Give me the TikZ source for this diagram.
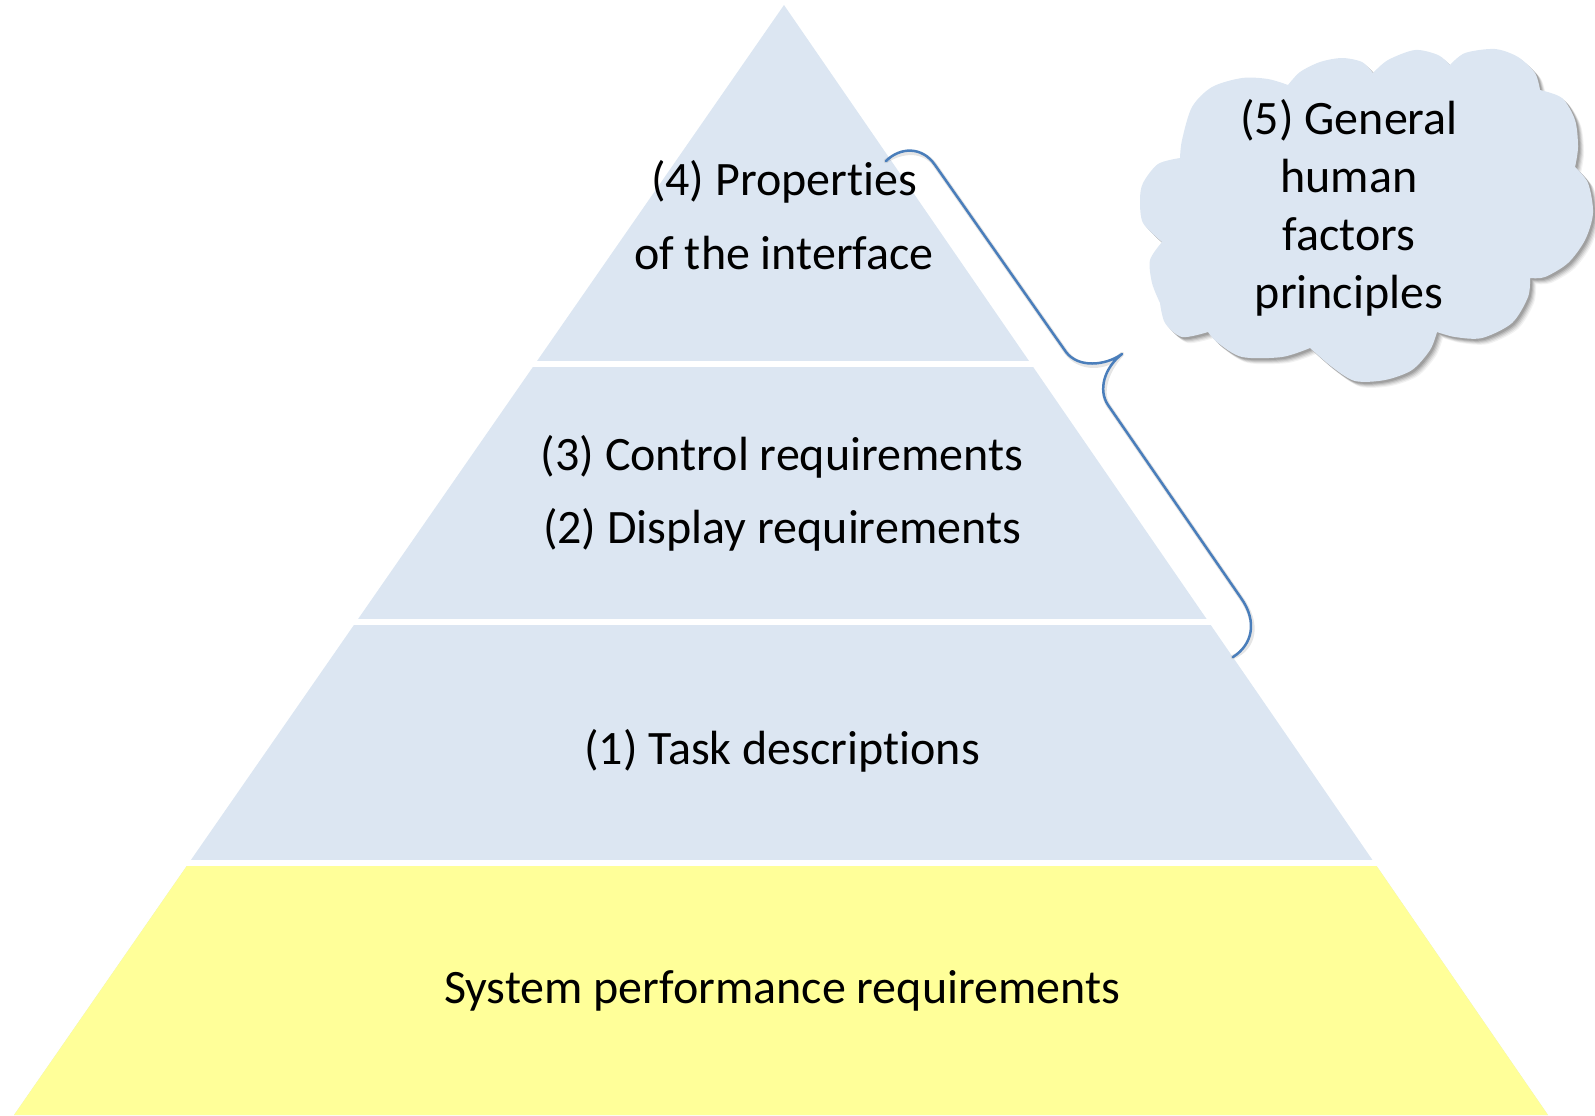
\documentclass[tikz,border=0pt]{standalone}
\usepackage{fontspec}
\setmainfont[Ligatures={NoCommon,NoContextual}]{Carlito}
\usetikzlibrary{calc}

\definecolor{pyrblue}{HTML}{DCE6F2}
\definecolor{pyryellow}{HTML}{FFFF99}
\definecolor{bracecol}{HTML}{4A7EBB}

% keeps t and i as separate glyphs
\newcommand\tsep{t\kern0pt i}

% outline of the thought cloud, lobe by lobe
\newcommand\hfcloudpath{%
  (1162,242)
  -- plot[smooth] coordinates {(1162,242) (1143,223) (1140,200) (1143,183) (1158,164) (1180,158)}
  -- plot[smooth] coordinates {(1180,158) (1182,140) (1192,107) (1212,87) (1242,78) (1268,79) (1288,85)}
  -- plot[smooth] coordinates {(1288,85) (1300,72) (1320,62) (1342,58) (1362,62) (1373,73)}
  -- plot[smooth] coordinates {(1373,73) (1388,60) (1415,50) (1438,55) (1450,65)}
  -- plot[smooth] coordinates {(1450,65) (1465,53) (1495,49) (1518,57) (1535,73) (1540,90)}
  -- plot[smooth] coordinates {(1540,90) (1562,98) (1575,120) (1578,147) (1575,167)}
  -- plot[smooth] coordinates {(1575,167) (1588,183) (1593,213) (1585,240) (1568,263) (1545,277) (1530,278)}
  -- plot[smooth] coordinates {(1530,278) (1528,297) (1512,323) (1482,338) (1455,337) (1437,332)}
  -- plot[smooth] coordinates {(1437,332) (1430,350) (1412,370) (1385,380) (1355,381) (1332,367) (1310,348)}
  -- plot[smooth] coordinates {(1310,348) (1282,357) (1242,357) (1218,343) (1208,332)}
  -- plot[smooth] coordinates {(1208,332) (1182,337) (1165,323) (1160,303)}
  -- plot[smooth] coordinates {(1160,303) (1152,283) (1150,260) (1162,242)}
  -- cycle}

\begin{document}
\begin{tikzpicture}[x=0.5pt,y=-0.5pt,
  lbl/.style={font=\fontsize{24}{29}\selectfont, inner sep=0pt, anchor=base},
  gapbar/.style={fill=white},
  bracestroke/.style={draw=bracecol, line width=1.25pt, line join=round, line cap=round},
  braceshade/.style={draw=black, opacity=0.10, line width=2.2pt, line join=round, line cap=round},
]
\useasboundingbox (0,0) rectangle (1595,1115);

% pyramid body
\coordinate (apex) at (784,5);
\coordinate (bl) at (14,1115);
\coordinate (br) at (1548,1115);
\fill[pyrblue] (apex) -- (bl) -- (br) -- cycle;
\begin{scope}
  \clip (0,866) rectangle (1595,1115);
  \fill[pyryellow] (apex) -- (bl) -- (br) -- cycle;
\end{scope}

% white gaps between the tiers
\fill[gapbar] (0,361) rectangle (1595,367);
\fill[gapbar] (0,619) rectangle (1595,625);
\fill[gapbar] (0,860) rectangle (1595,866);

% tier labels
\node[lbl] (p4a) at (784,195) {(4) Proper\tsep es};
\node[lbl] (p4b) at (784,269) {of the interface};
\node[lbl] (p3)  at (782,470) {(3) Control requirements};
\node[lbl] (p2)  at (782,543) {(2) Display requirements};
\node[lbl] (p1)  at (782,764) {(1) Task descrip\tsep ons};
\node[lbl] (p0)  at (782,1003) {System performance requirements};

% curly brace spanning tiers (4) to (2)
\coordinate (bA) at (886,161);
\coordinate (bB) at (935,165);
\coordinate (bC) at (1066,352);
\coordinate (bTip) at (1122,354);
\coordinate (bD) at (1108,405);
\coordinate (bE) at (1241,598);
\coordinate (bF) at (1233,657);
\begin{scope}[shift={(2,3)}]
  \draw[braceshade] (bA) .. controls (900,147) and (922,146) .. (bB)
    -- (bC) .. controls (1078,368) and (1105,366) .. (bTip)
    .. controls (1104,368) and (1098,390) .. (bD)
    -- (bE) .. controls (1258,622) and (1252,645) .. (bF);
\end{scope}
\draw[bracestroke] (bA) .. controls (900,147) and (922,146) .. (bB)
  -- (bC) .. controls (1078,368) and (1105,366) .. (bTip)
  .. controls (1104,368) and (1098,390) .. (bD)
  -- (bE) .. controls (1258,622) and (1252,645) .. (bF);

% cloud with a soft drop shadow
\foreach \d/\o in {6/0.05,5/0.07,4/0.09,3/0.11,2/0.12}{
  \fill[black, opacity=\o, shift={(\d,\d)}] \hfcloudpath;
}
\fill[pyrblue] \hfcloudpath;

\node[lbl] (c1) at (1349,134) {(5) General};
\node[lbl] (c2) at (1349,192) {human};
\node[lbl] (c3) at (1349,250) {factors};
\node[lbl] (c4) at (1349,308) {principles};
\end{tikzpicture}
\end{document}
